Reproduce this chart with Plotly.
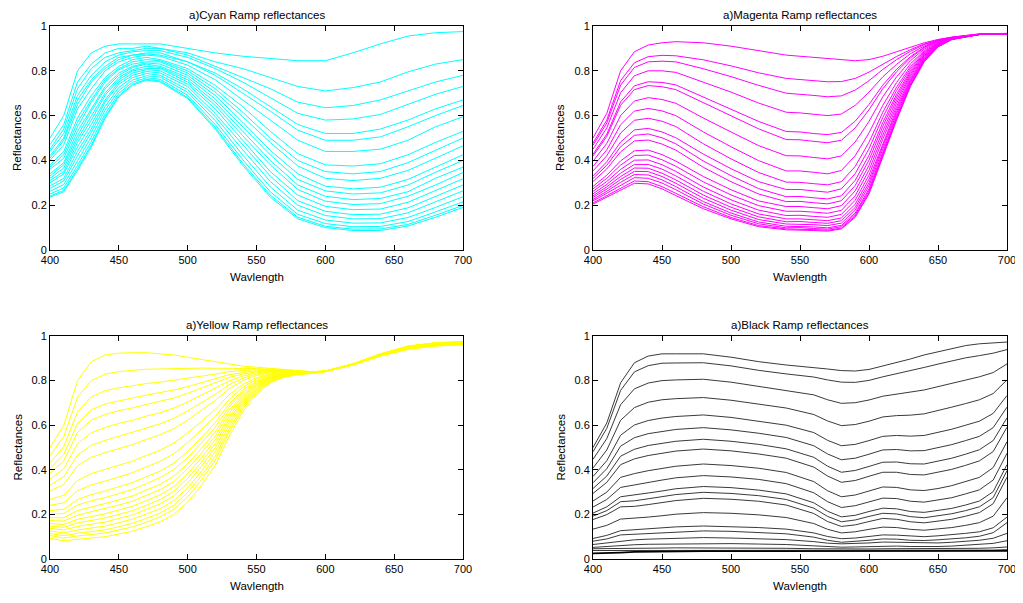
import plotly.graph_objects as go

# ---------------- data (reflectance in percent) ----------------
WL_CYAN = [400, 410, 420, 430, 440, 450, 460, 470, 480, 500, 520, 540, 560, 580, 600, 620, 640, 660, 680, 700]
CYAN = [
    [50, 60, 80, 88, 91, 92, 92, 92, 92, 90, 88, 86.5, 85.5, 84.5, 84.5, 88, 92, 95.5, 97, 97.5],
    [47, 56, 75, 83, 88, 90, 90, 91, 90, 88, 84, 81, 77, 73, 71, 72.5, 75, 79.5, 83, 85],
    [45, 54, 72, 81, 86, 88, 89, 90, 90, 87, 82, 77, 72, 66, 63.5, 64.5, 67, 71, 75, 78],
    [44, 52, 69, 78, 84, 87, 88.5, 89, 89, 86, 81, 75, 68, 61, 58, 58.5, 60.5, 65, 69.5, 73],
    [42, 50, 67, 76, 82, 86, 87, 88, 88, 84, 79, 72, 64, 56, 52, 52, 54, 58, 63, 67],
    [41, 49, 65, 75, 81, 85, 87, 87.5, 87, 84, 78, 70, 62, 53.5, 49, 49, 50.5, 55, 60, 64.5],
    [40, 47, 63, 72, 80, 84, 86, 87, 86.5, 82.5, 76, 67, 58, 49, 44, 44, 45, 49, 55, 59.5],
    [38, 44, 59, 69, 77, 82, 85, 86, 85, 81, 73.5, 64, 53, 43, 38, 37.5, 38.5, 42.5, 48, 53],
    [37, 42.5, 57, 67, 76, 81, 84, 85, 84.5, 80, 72, 61.5, 50, 40, 35, 34, 35, 39, 44.5, 50],
    [36, 41, 55, 66, 75, 80.5, 83, 84, 84, 79, 70.5, 59.5, 48, 37.5, 32, 31, 32, 35.5, 41, 46.5],
    [34, 39, 53, 63, 73, 79, 82, 83.5, 83, 78, 69, 57, 44.5, 34, 28.5, 27.3, 28, 31.5, 37, 42.5],
    [33, 38, 51, 62, 72, 78, 81.5, 83, 82, 77, 67.5, 55, 42.5, 31.5, 26.4, 25, 25.5, 29, 34.7, 40],
    [32, 36.6, 49.5, 60, 70, 77, 80.5, 82, 81.5, 76, 66, 53, 40, 29, 24, 22.5, 23, 26, 32, 37],
    [31, 35, 48, 58, 69, 76, 80, 81, 81, 75, 64.6, 51, 38, 27, 21.8, 20.3, 20.7, 24, 29, 34.6],
    [30, 34, 46, 56, 67, 75, 79, 80.5, 80, 74, 63, 49, 35, 24.5, 19.5, 18, 18.3, 21.3, 26.5, 31.8],
    [28.6, 32, 44, 54, 66, 74, 78, 79.7, 79, 73, 61, 47, 33, 22, 17.3, 15.8, 16, 18.8, 23.9, 29],
    [27.5, 30.8, 42, 52.5, 64, 72.6, 77, 78.8, 78, 71.6, 59.6, 44.7, 30.6, 20, 15.4, 13.9, 14, 16.6, 21.5, 26.4],
    [26.2, 29.2, 39.8, 50.4, 62.4, 71.2, 75.9, 77.8, 77.2, 70.4, 57.8, 42.4, 28.2, 17.8, 13.4, 12, 12.1, 14.5, 19, 23.8],
    [25, 27.7, 37.8, 48.4, 60.7, 70, 74.9, 76.9, 76.2, 69.1, 56, 40.3, 26, 15.9, 11.8, 10.4, 10.5, 12.7, 17, 21.5],
    [24.1, 26.6, 36.4, 46.9, 59.5, 69, 74, 76.2, 75.5, 68.1, 54.8, 38.7, 24.5, 14.6, 10.6, 9.3, 9.4, 11.4, 15.5, 19.9],
    [23.6, 26, 35.5, 46, 58.7, 68.4, 73.6, 75.8, 75, 67.6, 54, 37.8, 23.6, 13.9, 10, 8.7, 8.7, 10.7, 14.6, 19],
]

WL_MAGENTA = [400, 410, 420, 430, 440, 450, 460, 480, 500, 520, 540, 550, 560, 570, 580, 590, 600, 610, 620, 630, 640, 650, 660, 680, 700]
MAGENTA = [
    [50, 61, 80, 88.5, 91.5, 92.5, 93, 92.5, 91, 89, 87, 86.5, 86, 85.5, 85, 84.5, 85, 86.5, 88.5, 90.5, 92.5, 94, 95, 96.5, 96.7],
    [47.7, 58, 75.6, 83.6, 86.3, 86.9, 86.7, 84.9, 82.2, 79.1, 76.6, 76.2, 75.7, 75.1, 75.2, 76.6, 79.4, 83, 86.4, 89.4, 92, 93.8, 95, 96.4, 96.6],
    [46.7, 56.7, 73.6, 81.5, 84, 84.3, 84, 80.9, 77.4, 73.5, 70, 69.6, 69, 68.4, 68.8, 71.4, 75.6, 80.6, 85, 88.7, 91.7, 93.7, 94.9, 96.3, 96.6],
    [45, 54.5, 70.2, 77.8, 80, 80, 79.3, 75, 70.5, 65.6, 61.5, 61.2, 60.6, 60, 60.7, 64.6, 70.5, 77.3, 82.9, 87.6, 91.1, 93.5, 94.8, 96.3, 96.6],
    [42.8, 51.7, 66.1, 73.3, 75.1, 74.8, 73.7, 68.3, 62.9, 57.4, 52.9, 52.7, 52, 51.5, 52.5, 57.5, 65, 73.6, 80.7, 86.3, 90.6, 93.3, 94.8, 96.3, 96.6],
    [42, 50.7, 64.6, 71.6, 73.4, 72.9, 71.6, 65.7, 59.9, 54.1, 49.3, 49.2, 48.5, 47.9, 49, 54.5, 62.6, 72, 79.6, 85.7, 90.3, 93.2, 94.7, 96.3, 96.6],
    [39.6, 47.6, 60, 66.5, 68, 67.2, 65.5, 58.9, 52.7, 46.6, 42.1, 42, 41.3, 40.7, 42, 48.2, 57.4, 68.4, 77.3, 84.5, 89.7, 92.9, 94.7, 96.3, 96.6],
    [37.3, 44.7, 55.9, 62, 63.2, 62.1, 60, 52.7, 46.1, 39.9, 35.3, 35.3, 34.7, 34, 35.5, 42.1, 52.3, 64.6, 74.8, 83.1, 89, 92.7, 94.6, 96.3, 96.6],
    [35.3, 42.1, 52.2, 57.9, 58.8, 57.5, 55.1, 47.4, 40.7, 34.6, 30.3, 30.2, 29.6, 29.1, 30.5, 37.3, 48.1, 61.5, 72.7, 81.9, 88.5, 92.4, 94.5, 96.2, 96.6],
    [33.1, 39.4, 48.2, 53.6, 54.3, 52.7, 50.1, 42.8, 36.3, 30.5, 27, 27, 26.4, 25.8, 27.3, 34.1, 45.2, 59.2, 71.2, 81, 88, 92.3, 94.5, 96.2, 96.6],
    [31.9, 37.8, 46.1, 51.2, 51.8, 50.1, 47.4, 39.7, 33.2, 27.4, 23.8, 23.9, 23.3, 22.8, 24.2, 31.1, 42.3, 56.9, 69.5, 80.1, 87.6, 92.1, 94.4, 96.2, 96.6],
    [30.6, 36.2, 43.8, 48.7, 49.1, 47.3, 44.6, 36.9, 30.5, 25, 21.6, 21.7, 21.1, 20.6, 22, 28.8, 40.1, 55.2, 68.3, 79.3, 87.2, 91.9, 94.4, 96.2, 96.6],
    [28.4, 33.4, 39.8, 44.3, 44.6, 42.6, 39.7, 32.8, 26.9, 21.9, 19.4, 19.4, 18.9, 18.4, 19.8, 26.4, 37.8, 53.2, 66.9, 78.5, 86.8, 91.8, 94.3, 96.2, 96.6],
    [27.3, 32, 37.9, 42.2, 42.4, 40.3, 37.4, 30.4, 24.6, 19.8, 17.3, 17.3, 16.9, 16.4, 17.7, 24.2, 35.6, 51.3, 65.5, 77.7, 86.4, 91.6, 94.3, 96.2, 96.6],
    [26.2, 30.6, 36, 40.1, 40.2, 38.1, 35.1, 28.1, 22.4, 17.8, 15.4, 15.5, 15, 14.6, 15.9, 22.2, 33.4, 49.5, 64.1, 76.8, 86, 91.5, 94.2, 96.2, 96.6],
    [25.1, 29.3, 34.3, 38.2, 38.2, 36.1, 33.1, 26.2, 20.6, 16.1, 13.9, 13.9, 13.5, 13.1, 14.3, 20.4, 31.6, 47.7, 62.9, 76, 85.6, 91.3, 94.2, 96.2, 96.6],
    [24.2, 28.2, 32.8, 36.6, 36.5, 34.3, 31.3, 24.5, 19.1, 14.8, 12.6, 12.7, 12.3, 11.9, 13.1, 19, 30, 46.4, 61.8, 75.4, 85.3, 91.2, 94.1, 96.2, 96.6],
    [23.5, 27.2, 31.5, 35.1, 35, 32.8, 29.8, 23.1, 17.8, 13.6, 11.6, 11.6, 11.3, 10.9, 12, 17.8, 28.7, 45.1, 60.8, 74.8, 84.9, 91, 94.1, 96.2, 96.6],
    [22.6, 26.2, 30.2, 33.7, 33.5, 31.3, 28.3, 21.6, 16.5, 12.5, 10.6, 10.6, 10.3, 9.9, 11, 16.5, 27.3, 43.7, 59.7, 74.1, 84.6, 90.9, 94, 96.2, 96.6],
    [21.9, 25.3, 28.9, 32.3, 32, 29.9, 26.9, 20.5, 15.5, 11.7, 9.9, 10, 9.6, 9.3, 10.4, 15.8, 26.4, 42.9, 59.1, 73.7, 84.4, 90.8, 94, 96.2, 96.6],
    [21, 24.3, 27.6, 30.8, 30.5, 28.3, 25.3, 19.3, 14.5, 10.9, 9.4, 9.4, 9.1, 8.8, 9.8, 15.1, 25.6, 42.1, 58.5, 73.3, 84.2, 90.7, 94, 96.2, 96.6],
    [20.5, 23.6, 26.7, 29.8, 29.5, 27.3, 24.3, 18.4, 13.9, 10.4, 9, 9, 8.7, 8.4, 9.4, 14.6, 25, 41.5, 58, 73, 84, 90.7, 94, 96.3, 96.7],
]

WL_YELLOW = [400, 410, 420, 430, 440, 450, 460, 470, 480, 490, 500, 510, 520, 530, 540, 550, 560, 570, 580, 590, 600, 620, 640, 660, 680, 700]
YELLOW = [
    [50, 60, 80, 88.5, 91.5, 92.3, 92.5, 92.5, 92, 91.5, 90.5, 89.5, 88.5, 87.5, 86.5, 86, 85.5, 85, 84.5, 84, 84.3, 87.5, 92, 95.5, 97, 97.5],
    [46.4, 54.9, 72.5, 80, 82.9, 84, 84.6, 85.1, 85.2, 85.5, 85.5, 85.6, 85.6, 85.7, 85.5, 85.4, 85.2, 84.8, 84.5, 84, 84.3, 87.5, 92, 95.4, 96.9, 97.4],
    [43.2, 50.4, 66, 72.7, 75.4, 76.8, 77.7, 78.7, 79.3, 80.1, 81, 82, 82.9, 84, 84.5, 84.9, 84.9, 84.7, 84.3, 83.9, 84.3, 87.5, 91.9, 95.4, 96.9, 97.4],
    [40.6, 46.9, 60.8, 66.9, 69.5, 71, 72.2, 73.5, 74.5, 75.8, 77.3, 79.1, 80.7, 82.6, 83.6, 84.4, 84.7, 84.6, 84.3, 83.9, 84.3, 87.4, 91.9, 95.3, 96.8, 97.3],
    [38.5, 44, 56.8, 62.3, 64.8, 66.5, 67.8, 69.3, 70.6, 72.2, 74.3, 76.6, 78.8, 81.4, 82.9, 84, 84.5, 84.4, 84.2, 83.9, 84.3, 87.4, 91.8, 95.3, 96.8, 97.3],
    [35.8, 40.5, 51.7, 56.6, 59, 60.8, 62.2, 64.1, 65.6, 67.7, 70.4, 73.5, 76.4, 79.8, 82, 83.5, 84.2, 84.3, 84.1, 83.8, 84.2, 87.4, 91.8, 95.2, 96.7, 97.2],
    [33.1, 36.9, 46.6, 51, 53.2, 55.1, 56.7, 58.8, 60.6, 63.1, 66.4, 70.1, 73.8, 78.1, 81, 82.9, 83.9, 84.1, 84.1, 83.8, 84.2, 87.4, 91.8, 95.1, 96.6, 97.1],
    [30.5, 33.4, 41.8, 45.6, 47.7, 49.6, 51.3, 53.6, 55.7, 58.5, 62.3, 66.7, 71.1, 76.3, 79.9, 82.3, 83.5, 84, 84, 83.8, 84.2, 87.4, 91.7, 95.1, 96.6, 97.1],
    [26.7, 28.6, 35.2, 38.3, 40.2, 42.1, 43.9, 46.4, 48.8, 52, 56.5, 61.7, 67.1, 73.6, 78.2, 81.3, 83, 83.7, 83.8, 83.7, 84.2, 87.3, 91.6, 95, 96.5, 97],
    [24.1, 25.2, 30.6, 33.2, 34.9, 36.9, 38.7, 41.3, 43.8, 47.2, 52.2, 58, 64, 71.5, 76.9, 80.6, 82.6, 83.5, 83.7, 83.6, 84.2, 87.3, 91.6, 94.9, 96.4, 96.9],
    [21.7, 22.3, 26.7, 28.9, 30.5, 32.4, 34.3, 36.9, 39.4, 43, 48.2, 54.5, 61.1, 69.5, 75.7, 79.8, 82.2, 83.2, 83.6, 83.6, 84.2, 87.3, 91.5, 94.8, 96.3, 96.8],
    [20.1, 20.4, 24.2, 26.1, 27.5, 29.4, 31.2, 33.8, 36.5, 40.1, 45.5, 52.1, 59.1, 68, 74.7, 79.3, 81.9, 83.1, 83.5, 83.6, 84.1, 87.2, 91.5, 94.7, 96.2, 96.7],
    [18.5, 18.5, 21.7, 23.3, 24.7, 26.5, 28.3, 30.9, 33.5, 37.2, 42.7, 49.6, 56.9, 66.5, 73.7, 78.7, 81.6, 82.9, 83.4, 83.5, 84.1, 87.2, 91.4, 94.6, 96.1, 96.6],
    [17.2, 17, 19.7, 21.2, 22.4, 24.2, 26, 28.5, 31.1, 34.8, 40.5, 47.5, 55.1, 65.2, 72.9, 78.2, 81.3, 82.8, 83.4, 83.5, 84.1, 87.2, 91.4, 94.5, 96, 96.5],
    [15.9, 15.5, 17.8, 19.1, 20.3, 22, 23.7, 26.2, 28.8, 32.5, 38.2, 45.4, 53.3, 63.8, 72, 77.7, 81, 82.6, 83.3, 83.5, 84.1, 87.2, 91.3, 94.5, 96, 96.5],
    [14.8, 14.2, 16.2, 17.3, 18.4, 20, 21.7, 24.1, 26.7, 30.4, 36.1, 43.4, 51.6, 62.5, 71.1, 77.1, 80.7, 82.4, 83.2, 83.4, 84.1, 87.1, 91.3, 94.4, 95.9, 96.4],
    [13.7, 13, 14.6, 15.6, 16.6, 18.2, 19.8, 22.2, 24.7, 28.4, 34.1, 41.5, 49.9, 61.2, 70.3, 76.6, 80.5, 82.3, 83.1, 83.4, 84.1, 87.1, 91.2, 94.3, 95.8, 96.3],
    [12.5, 11.7, 13, 13.9, 14.8, 16.3, 17.9, 20.2, 22.6, 26.2, 31.9, 39.4, 48, 59.8, 69.3, 76, 80.1, 82.1, 83, 83.3, 84.1, 87.1, 91.2, 94.3, 95.8, 96.3],
    [11.4, 10.5, 11.5, 12.3, 13.1, 14.5, 16, 18.2, 20.6, 24.1, 29.8, 37.3, 46, 58.2, 68.2, 75.4, 79.8, 81.9, 82.9, 83.3, 84.1, 87.1, 91.1, 94.2, 95.7, 96.2],
    [10.5, 9.4, 10.3, 10.9, 11.7, 13, 14.4, 16.5, 18.9, 22.3, 27.9, 35.4, 44.3, 56.9, 67.3, 74.8, 79.4, 81.8, 82.8, 83.3, 84, 87, 91.1, 94.1, 95.6, 96.1],
    [9.3, 8.2, 8.8, 9.3, 10, 11.2, 12.5, 14.5, 16.7, 20, 25.5, 33, 42, 55, 66, 74, 79, 81.5, 82.7, 83.2, 84, 87, 91, 94, 95.5, 96],
]

WL_BLACK = [400, 410, 420, 430, 440, 450, 460, 480, 500, 520, 540, 560, 570, 580, 590, 600, 610, 620, 630, 640, 650, 660, 670, 680, 690, 700]
BLACK = [
    [50, 61, 79, 88, 91, 92, 92, 92, 90.5, 88.5, 87, 86, 85.2, 84.5, 84.3, 85, 86.5, 88, 89.7, 91.5, 93, 94.5, 95.7, 96.5, 97, 97.3],
    [48.1, 58.6, 75.6, 83.9, 86.7, 87.8, 87.9, 88, 86.6, 84.6, 83, 81.6, 80.3, 79.3, 79.2, 80.1, 81.7, 83, 84.4, 85.9, 87.4, 88.9, 90.2, 91.2, 92.3, 93.9],
    [44.7, 54, 69.2, 76.3, 78.9, 80, 80.3, 80.6, 79.3, 77.4, 75.7, 73.6, 71.4, 69.8, 70.1, 71.3, 73, 74, 74.7, 75.8, 77.3, 78.8, 80.4, 81.7, 83.6, 87.5],
    [40.8, 48.9, 62.2, 67.9, 70.3, 71.4, 71.9, 72.4, 71.2, 69.5, 67.7, 64.8, 61.9, 59.8, 60.3, 61.8, 63.7, 64.3, 64.5, 65.1, 66.5, 68.1, 69.7, 71.4, 74.2, 80.3],
    [37, 44.1, 55.5, 60.1, 62.1, 63.2, 63.9, 64.6, 63.5, 61.9, 60, 56.7, 53.2, 50.8, 51.4, 53.1, 55, 55.4, 55.1, 55.4, 56.7, 58.2, 60, 61.8, 65.3, 73.3],
    [34.2, 40.5, 50.6, 54.4, 56.2, 57.3, 58.1, 58.9, 57.9, 56.4, 54.5, 50.8, 47.1, 44.5, 45.2, 47, 48.9, 49.1, 48.5, 48.6, 49.8, 51.3, 53.1, 55, 58.9, 68.1],
    [31.6, 37.2, 46.1, 49.2, 50.9, 52, 52.8, 53.7, 52.8, 51.4, 49.4, 45.6, 41.6, 38.9, 39.7, 41.5, 43.4, 43.5, 42.7, 42.6, 43.8, 45.2, 47, 49, 53.1, 63.3],
    [29.4, 34.4, 42.3, 44.9, 46.4, 47.5, 48.4, 49.3, 48.5, 47.1, 45.2, 41.2, 37.2, 34.4, 35.2, 37.1, 38.9, 38.9, 37.9, 37.7, 38.8, 40.2, 42, 44, 48.2, 59.1],
    [26, 30, 36.6, 38.3, 39.6, 40.7, 41.6, 42.6, 41.9, 40.7, 38.8, 34.7, 30.6, 27.9, 28.7, 30.5, 32.3, 32.1, 31, 30.7, 31.6, 32.9, 34.6, 36.6, 41, 52.6],
    [23.3, 26.7, 32.1, 33.3, 34.4, 35.4, 36.4, 37.4, 36.8, 35.7, 33.8, 29.7, 25.7, 23.1, 23.9, 25.7, 27.3, 27.1, 25.9, 25.5, 26.4, 27.5, 29.2, 31, 35.4, 47.4],
    [20.6, 23.4, 27.9, 28.6, 29.6, 30.5, 31.5, 32.5, 32, 30.9, 29.2, 25.2, 21.4, 18.9, 19.6, 21.3, 22.8, 22.5, 21.3, 20.9, 21.7, 22.7, 24.2, 26, 30.2, 42.3],
    [19.2, 21.7, 25.7, 26.1, 27, 27.9, 28.9, 29.9, 29.4, 28.4, 26.7, 22.8, 19.1, 16.7, 17.5, 19.1, 20.5, 20.2, 19, 18.5, 19.3, 20.3, 21.7, 23.4, 27.5, 39.6],
    [17.7, 19.9, 23.4, 23.6, 24.4, 25.3, 26.2, 27.2, 26.8, 25.9, 24.2, 20.4, 16.8, 14.6, 15.3, 16.8, 18.2, 17.8, 16.7, 16.2, 16.9, 17.8, 19.2, 20.8, 24.8, 36.7],
    [13.4, 15.1, 17.9, 18.2, 18.8, 19.4, 20.1, 20.8, 20.5, 19.8, 18.6, 15.9, 13.3, 11.7, 12.2, 13.3, 14.3, 14.1, 13.3, 12.9, 13.5, 14.1, 15.1, 16.3, 19.2, 27.5],
    [9.2, 10.6, 12.7, 13.2, 13.6, 14, 14.4, 14.8, 14.6, 14.1, 13.4, 11.7, 10.1, 9.1, 9.4, 10.1, 10.8, 10.7, 10.2, 10, 10.4, 10.8, 11.5, 12.2, 14, 18.8],
    [8, 9, 10.8, 11.1, 11.5, 11.9, 12.2, 12.6, 12.4, 12, 11.3, 9.8, 8.4, 7.5, 7.8, 8.4, 9, 8.9, 8.4, 8.3, 8.6, 9, 9.5, 10.2, 11.8, 16.3],
    [6.5, 7.2, 8.2, 8.6, 8.9, 9.1, 9.3, 9.6, 9.4, 9.1, 8.7, 7.8, 7.1, 6.8, 6.9, 7.2, 7.6, 7.5, 7.2, 7, 7.2, 7.5, 7.9, 8.4, 9.3, 11.5],
    [5.2, 5.6, 6.2, 6.4, 6.6, 6.7, 6.8, 7, 6.9, 6.7, 6.5, 5.9, 5.5, 5.3, 5.4, 5.6, 5.9, 5.8, 5.6, 5.5, 5.6, 5.8, 6.1, 6.4, 7, 8.2],
    [4.6, 4.6, 4.7, 4.8, 4.9, 4.9, 5, 5, 5, 4.9, 4.8, 4.6, 4.5, 4.4, 4.4, 4.5, 4.6, 4.6, 4.5, 4.5, 4.5, 4.6, 4.7, 4.8, 5, 5.4],
    [3.8, 3.8, 3.9, 3.9, 4, 4, 4, 4, 4, 4, 3.9, 3.8, 3.8, 3.7, 3.7, 3.8, 3.8, 3.8, 3.8, 3.8, 3.8, 3.8, 3.9, 3.9, 4, 4.2],
    [2.5, 2.6, 2.9, 3.2, 3.3, 3.4, 3.4, 3.5, 3.5, 3.5, 3.5, 3.4, 3.4, 3.4, 3.4, 3.4, 3.5, 3.5, 3.5, 3.5, 3.5, 3.5, 3.5, 3.5, 3.5, 3.6],
]

TITLES = ["a)Cyan Ramp reflectances", "a)Magenta Ramp reflectances",
          "a)Yellow Ramp reflectances", "a)Black Ramp reflectances"]
X_LABEL = "Wavlength"
Y_LABEL = "Reflectances"
X_TICKS = [400, 450, 500, 550, 600, 650, 700]
Y_TICKS = [0, 0.2, 0.4, 0.6, 0.8, 1]
Y_TICKTEXT = ["0", "0.2", "0.4", "0.6", "0.8", "1"]

# ---------------- layout geometry ----------------
# the page body adds an 8px margin at the top-left; the figure fills the
# rest of the 1023x603 window and positions are given in window pixels
OFF = 8
W, H = 1023 - OFF, 603 - OFF
FONT = "Liberation Sans, Arial, Helvetica, sans-serif"

def px_x(p):
    return (p - OFF) / W

def px_y(p):
    return (H - (p - OFF)) / H

# plot areas in window pixels: (left, right, top, bottom)
AREAS = [(50, 463, 26, 250), (593, 1007, 26, 250),
         (50, 463, 336, 559), (593, 1007, 336, 559)]
YLAB_X = [17, 560, 17, 560]

panels = [(WL_CYAN, CYAN, "#00FFFF"), (WL_MAGENTA, MAGENTA, "#FF00FF"),
          (WL_YELLOW, YELLOW, "#FFFF00"), (WL_BLACK, BLACK, "#3a3a3a")]

fig = go.Figure()
layout = dict(width=W, height=H, autosize=False,
              margin=dict(l=0, r=0, t=0, b=0, pad=0),
              paper_bgcolor="white", plot_bgcolor="white",
              showlegend=False,
              font=dict(family=FONT, size=11, color="black"))
annotations = []

for i, ((wl, rows, color), area, title) in enumerate(zip(panels, AREAS, TITLES)):
    n = "" if i == 0 else str(i + 1)
    xa, ya = "x" + n, "y" + n
    l, r, t, b = area
    for j, row in enumerate(rows):
        width = 1
        lc = color
        if i == 3 and j == len(rows) - 1:
            width = 1.8
            lc = "#000000"
        fig.add_trace(go.Scatter(x=wl, y=[v / 100 for v in row], mode="lines",
                                 line=dict(color=lc, width=width),
                                 xaxis=xa, yaxis=ya, hoverinfo="skip"))
    axis_common = dict(showline=True, linecolor="black", linewidth=1, mirror="ticks",
                       ticks="inside", ticklen=5, tickcolor="black", tickwidth=1,
                       showgrid=False, zeroline=False, automargin=False,
                       ticklabeloverflow="allow",
                       tickfont=dict(family=FONT, size=11, color="black"))
    layout["xaxis" + n] = dict(domain=[px_x(l), px_x(r)], range=[400, 700],
                               tickvals=X_TICKS, anchor=ya, **axis_common)
    layout["yaxis" + n] = dict(domain=[px_y(b), px_y(t)], range=[0, 1],
                               tickvals=Y_TICKS, ticktext=Y_TICKTEXT, anchor=xa,
                               **axis_common)
    cx = px_x((l + r) / 2)
    annotations.append(dict(text=title, x=cx, y=px_y(t - 11), xref="paper", yref="paper",
                            showarrow=False, xanchor="center", yanchor="middle",
                            font=dict(family=FONT, size=11.5, color="black")))
    annotations.append(dict(text=X_LABEL, x=cx, y=px_y(b + 27), xref="paper", yref="paper",
                            showarrow=False, xanchor="center", yanchor="middle",
                            font=dict(family=FONT, size=11.5, color="black")))
    annotations.append(dict(text=Y_LABEL, x=px_x(YLAB_X[i]), y=px_y((t + b) / 2),
                            xref="paper", yref="paper", textangle=-90,
                            showarrow=False, xanchor="center", yanchor="middle",
                            font=dict(family=FONT, size=11.5, color="black")))

layout["annotations"] = annotations
fig.update_layout(**layout)
fig.write_html("out.html")
